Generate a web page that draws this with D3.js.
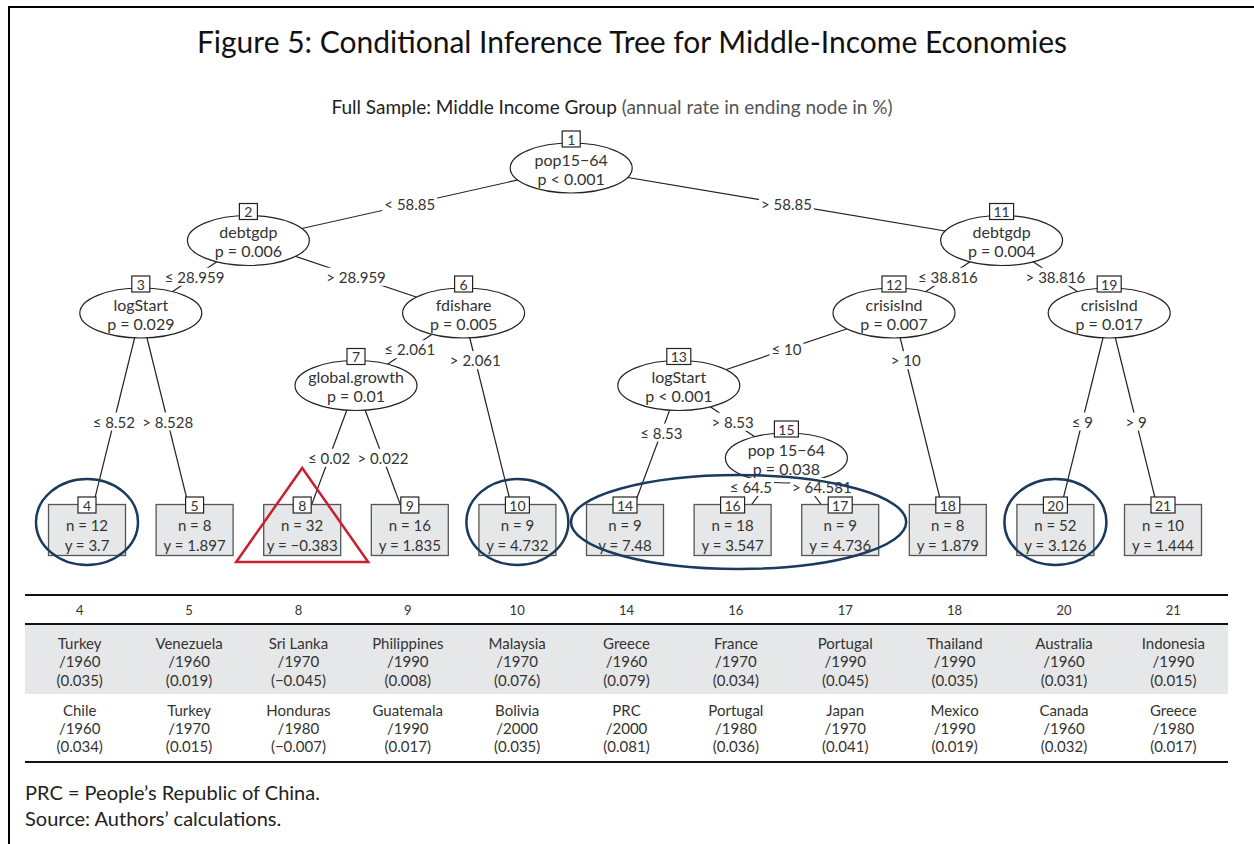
<!DOCTYPE html>
<html>
<head>
<meta charset="utf-8">
<script src="https://cdn.jsdelivr.net/npm/d3@7"></script>
<style>
  body { margin: 0; background: #fff; }
  svg text { font-family: Lato, "Noto Sans", sans-serif; fill: #333; }
</style>
</head>
<body>
<div id="chart"></div>
<script>
// Inner (split) nodes
const innerIds = [1, 2, 3, 6, 7, 11, 12, 13, 15, 19];
const innerVars = ["pop15\u221264", "debtgdp", "logStart", "fdishare", "global.growth", "debtgdp", "crisisInd", "logStart", "pop 15\u221264", "crisisInd"];
const innerP = ["p < 0.001", "p = 0.006", "p = 0.029", "p = 0.005", "p = 0.01", "p = 0.004", "p = 0.007", "p < 0.001", "p = 0.038", "p = 0.017"];

// Edges (parent -> child) with split labels
const edgeParent = [1, 1, 2, 2, 3, 3, 6, 6, 7, 7, 11, 11, 12, 12, 13, 13, 15, 15, 19, 19];
const edgeChild = [2, 11, 3, 6, 4, 5, 7, 10, 8, 9, 12, 19, 13, 18, 14, 15, 16, 17, 20, 21];
const edgeLabels = ["< 58.85", "> 58.85", "\u2264 28.959", "> 28.959", "\u2264 8.52", "> 8.528", "\u2264 2.061", "> 2.061", "\u2264 0.02", "> 0.022",
  "\u2264 38.816", "> 38.816", "\u2264 10", "> 10", "\u2264 8.53", "> 8.53", "\u2264 64.5", "> 64.581", "\u2264 9", "> 9"];

// Terminal nodes
const leafIds = [4, 5, 8, 9, 10, 14, 16, 17, 18, 20, 21];
const leafN = [12, 8, 32, 16, 9, 9, 18, 9, 8, 52, 10];
const leafY = ["3.7", "1.897", "\u22120.383", "1.835", "4.732", "7.48", "3.547", "4.736", "1.879", "3.126", "1.444"];

// Highlight annotations
const circledGroups = [[4], [10], [14, 16, 17], [20]];
const flaggedLeaf = 8;

// Table below the tree (one column per terminal node)
const topCountry = ["Turkey", "Venezuela", "Sri Lanka", "Philippines", "Malaysia", "Greece", "France", "Portugal", "Thailand", "Australia", "Indonesia"];
const topYear = ["/1960", "/1960", "/1970", "/1990", "/1970", "/1960", "/1970", "/1990", "/1990", "/1960", "/1990"];
const topRate = ["(0.035)", "(0.019)", "(\u22120.045)", "(0.008)", "(0.076)", "(0.079)", "(0.034)", "(0.045)", "(0.035)", "(0.031)", "(0.015)"];
const bottomCountry = ["Chile", "Turkey", "Honduras", "Guatemala", "Bolivia", "PRC", "Portugal", "Japan", "Mexico", "Canada", "Greece"];
const bottomYear = ["/1960", "/1970", "/1980", "/1990", "/2000", "/2000", "/1980", "/1970", "/1990", "/1960", "/1980"];
const bottomRate = ["(0.034)", "(0.015)", "(\u22120.007)", "(0.017)", "(0.035)", "(0.081)", "(0.036)", "(0.041)", "(0.019)", "(0.032)", "(0.017)"];

const width = 1254, height = 844;
const svg = d3.select("#chart").append("svg")
  .attr("width", width)
  .attr("height", height);

// Frame (top and left rules)
svg.append("line").attr("x1", 8).attr("x2", width).attr("y1", 7).attr("y2", 7)
  .attr("stroke", "#000").attr("stroke-width", 2);
svg.append("line").attr("x1", 9).attr("x2", 9).attr("y1", 6).attr("y2", height)
  .attr("stroke", "#000").attr("stroke-width", 2);

// Title and subtitle
svg.append("text")
  .attr("x", 632).attr("y", 53)
  .attr("text-anchor", "middle")
  .style("font-size", "30px")
  .style("fill", "#111")
  .text("Figure 5: Conditional Inference Tree for Middle-Income Economies");

const sub = svg.append("text")
  .attr("x", 612).attr("y", 114)
  .attr("text-anchor", "middle")
  .style("font-size", "19px");
sub.append("tspan").style("fill", "#222").text("Full Sample: Middle Income Group ");
sub.append("tspan").style("fill", "#555").text("(annual rate in ending node in %)");

// Build hierarchy
const rows = [{ id: 1, parentId: null }].concat(edgeChild.map((c, i) => ({ id: c, parentId: edgeParent[i], label: edgeLabels[i] })));
const root = d3.stratify().id(d => d.id).parentId(d => d.parentId)(rows);

// partykit-style placement: inner node sits after the leaves of its left child
function place(node, x0) {
  if (!node.children) { node.u = x0 + 0.5; return; }
  node.u = x0 + node.children[0].leaves().length;
  let start = x0;
  node.children.forEach(c => { place(c, start); start += c.leaves().length; });
}
place(root, 0);

const x = d3.scaleLinear().domain([0.5, leafIds.length - 0.5]).range([87, 1163]);
const depthY = d3.scaleLinear().domain([0, 4]).range([168, 458]);
const leafCenterY = 530;
const nodeX = d => x(d.u);
const nodeY = d => d.children ? depthY(d.depth) : leafCenterY;

// Edges
const links = root.links();
svg.append("g").selectAll("line")
  .data(links)
  .enter().append("line")
  .attr("x1", d => nodeX(d.source)).attr("y1", d => nodeY(d.source))
  .attr("x2", d => nodeX(d.target)).attr("y2", d => nodeY(d.target))
  .attr("stroke", "#222")
  .attr("stroke-width", 1.2);

// Inner nodes (ellipses)
const inner = root.descendants().filter(d => d.children);
const innerG = svg.append("g").selectAll("g")
  .data(inner)
  .enter().append("g")
  .attr("transform", d => `translate(${nodeX(d)},${nodeY(d)})`);

innerG.append("ellipse")
  .attr("rx", 61).attr("ry", 25)
  .attr("fill", "#fff")
  .attr("stroke", "#222")
  .attr("stroke-width", 1.2);

innerG.append("text")
  .attr("y", -9)
  .attr("text-anchor", "middle")
  .attr("dominant-baseline", "central")
  .style("font-size", "16px")
  .text(d => innerVars[innerIds.indexOf(+d.id)]);

innerG.append("text")
  .attr("y", 10)
  .attr("text-anchor", "middle")
  .attr("dominant-baseline", "central")
  .style("font-size", "16px")
  .text(d => innerP[innerIds.indexOf(+d.id)]);

// Terminal nodes (grey boxes)
const leaves = root.leaves();
const leafG = svg.append("g").selectAll("g")
  .data(leaves)
  .enter().append("g")
  .attr("transform", d => `translate(${nodeX(d)},${leafCenterY})`);

leafG.append("rect")
  .attr("x", -38.5).attr("y", -25.5)
  .attr("width", 77).attr("height", 51)
  .attr("fill", "#e6e7e8")
  .attr("stroke", "#555")
  .attr("stroke-width", 1.3);

leafG.append("text")
  .attr("y", -5)
  .attr("text-anchor", "middle")
  .attr("dominant-baseline", "central")
  .style("font-size", "15px")
  .text(d => "n = " + leafN[leafIds.indexOf(+d.id)]);

leafG.append("text")
  .attr("y", 15)
  .attr("text-anchor", "middle")
  .attr("dominant-baseline", "central")
  .style("font-size", "15px")
  .text(d => "y = " + leafY[leafIds.indexOf(+d.id)]);

// Edge labels with white background
const leafIdTop = leafCenterY - 33;
function labelPos(link) {
  const p = link.source, c = link.target;
  const px = nodeX(p), py = nodeY(p), cx = nodeX(c), cy = nodeY(c);
  let ly;
  if (c.children) ly = (py + cy) / 2;
  else if (p.children.every(s => !s.children)) ly = (py + cy) / 2;
  else ly = py + 0.65 * (depthY(1) - depthY(0));
  ly = Math.min(ly, leafIdTop - 10); // keep clear of the leaf id boxes
  return [px + (cx - px) * (ly - py) / (cy - py), ly];
}

const edgeLabelItems = links.map(l => {
  const [lx, ly] = labelPos(l);
  const g = svg.append("g");
  const bg = g.append("rect").attr("fill", "#fff");
  const t = g.append("text")
    .attr("text-anchor", "middle")
    .attr("dominant-baseline", "central")
    .style("font-size", "15px")
    .text(l.target.data.label);
  const w = t.node().getComputedTextLength();
  bg.attr("x", -w / 2 - 2).attr("y", -9).attr("width", w + 4).attr("height", 18);
  return { link: l, g, lx, ly, w };
});

// push apart sibling labels that would collide
d3.groups(edgeLabelItems, d => d.link.source.id).forEach(([, pair]) => {
  if (pair.length < 2) return;
  const [a, b] = pair;
  if (Math.abs(a.ly - b.ly) > 16) return;
  const gap = (b.lx - b.w / 2) - (a.lx + a.w / 2);
  if (gap < 6) { const shift = (20 - gap) / 2; a.lx -= shift; b.lx += shift; }
});
edgeLabelItems.forEach(d => d.g.attr("transform", `translate(${d.lx},${d.ly})`));

// Node id boxes
root.descendants().forEach(d => {
  const cx = nodeX(d);
  const cy = d.children ? nodeY(d) - 29 : leafCenterY - 25;
  const w = d.id.length > 1 ? 24 : 18;
  svg.append("rect")
    .attr("x", cx - w / 2).attr("y", cy - 8)
    .attr("width", w).attr("height", 16)
    .attr("fill", "#fff")
    .attr("stroke", "#222")
    .attr("stroke-width", 1.2);
  svg.append("text")
    .attr("x", cx).attr("y", cy)
    .attr("text-anchor", "middle")
    .attr("dominant-baseline", "central")
    .style("font-size", "14px")
    .text(d.id);
});

// Annotations: blue circles and red triangle
const leafX = id => nodeX(leaves.find(l => +l.id === id));
circledGroups.forEach(group => {
  const x0 = leafX(group[0]), x1 = leafX(group[group.length - 1]);
  svg.append("ellipse")
    .attr("cx", (x0 + x1) / 2 + (group.length > 1 ? 6 : 0))
    .attr("cy", 522)
    .attr("rx", (x1 - x0) / 2 + (group.length > 1 ? 60 : 51))
    .attr("ry", group.length > 1 ? 47 : 43)
    .attr("fill", "none")
    .attr("stroke", "#1b3a5c")
    .attr("stroke-width", 2.5);
});

const fx = leafX(flaggedLeaf);
svg.append("path")
  .attr("d", d3.line()([[fx, 468], [fx + 66, 562], [fx - 66, 562]]) + "Z")
  .attr("fill", "none")
  .attr("stroke", "#c8202f")
  .attr("stroke-width", 2.5);

// Table
const col = d3.scaleBand().domain(leafIds).range([25, 1228]);
const tableRule = y => svg.append("line")
  .attr("x1", 25).attr("x2", 1228).attr("y1", y).attr("y2", y)
  .attr("stroke", "#111").attr("stroke-width", 2);

svg.append("rect")
  .attr("x", 25).attr("y", 625)
  .attr("width", 1203).attr("height", 69)
  .attr("fill", "#e6e7e8");
tableRule(595);
tableRule(624);
tableRule(762);

const table = svg.append("g").selectAll("g")
  .data(leafIds)
  .enter().append("g")
  .attr("transform", d => `translate(${col(d) + col.bandwidth() / 2},0)`);

table.append("text")
  .attr("y", 610)
  .attr("text-anchor", "middle")
  .attr("dominant-baseline", "central")
  .style("font-size", "13px")
  .text(d => d);

const cellLines = [
  [topCountry, 643], [topYear, 661], [topRate, 680],
  [bottomCountry, 710], [bottomYear, 728], [bottomRate, 746]
];
cellLines.forEach(([arr, y]) => {
  table.append("text")
    .attr("y", y)
    .attr("text-anchor", "middle")
    .attr("dominant-baseline", "central")
    .style("font-size", "15px")
    .text((d, i) => arr[i]);
});

// Notes
svg.append("text").attr("x", 25).attr("y", 800)
  .style("font-size", "20px").style("fill", "#222")
  .text("PRC = People\u2019s Republic of China.");
svg.append("text").attr("x", 25).attr("y", 826)
  .style("font-size", "20px").style("fill", "#222")
  .text("Source: Authors\u2019 calculations.");
</script>
</body>
</html>
